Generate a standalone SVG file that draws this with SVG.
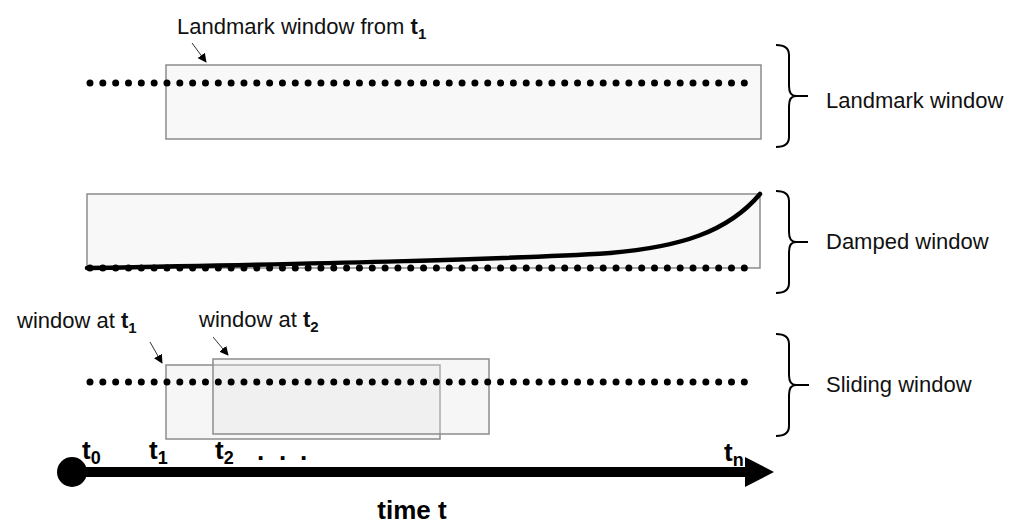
<svg xmlns="http://www.w3.org/2000/svg" width="1016" height="523" viewBox="0 0 1016 523">
  <defs>
    <style>
      .win { fill: #f8f8f8; stroke: #8c8c8c; stroke-width: 1.5; }
      .swin { fill: #e4e4e4; fill-opacity: 0.35; stroke: #8c8c8c; stroke-width: 1.5; }
      .dots { stroke: #000; stroke-width: 7; stroke-linecap: round; stroke-dasharray: 0 12.83; fill: none; }
      .brace { fill: none; stroke: #000; stroke-width: 2; }
      .lbl { font-family: "Liberation Sans", Arial, sans-serif; font-size: 22px; fill: #111; }
      .b { font-weight: bold; }
      .tl { font-family: "Liberation Sans", Arial, sans-serif; font-size: 26px; font-weight: bold; fill: #000; }
      .thin { stroke: #333; stroke-width: 1; fill: none; marker-end: url(#ah); }
    </style>
    <marker id="ah" viewBox="0 0 10 10" refX="9" refY="5" markerWidth="9" markerHeight="9" markerUnits="userSpaceOnUse" orient="auto">
      <path d="M0,0 L10,5 L0,10 z" fill="#000"/>
    </marker>
  </defs>
  <rect width="1016" height="523" fill="#fff"/>

  <g id="landmark">
    <rect class="win" x="166" y="65" width="595" height="74"/>
    <line class="dots" x1="90" y1="83" x2="757" y2="83"/>
    <text class="lbl" x="177" y="34">Landmark window from <tspan class="b">t</tspan><tspan class="b" font-size="15" dy="5">1</tspan></text>
    <path class="brace" d="M776,45 Q789,45 789,55 L789,86 Q789,96 796,96 Q789,96 789,106 L789,137 Q789,147 776,147 M796,96 L808,96"/>
    <text class="lbl" x="826" y="108">Landmark window</text>
  </g>

  <g id="damped">
    <rect class="win" x="87" y="194" width="673" height="74"/>
    <line class="dots" x1="90" y1="268" x2="757" y2="268"/>
    <path d="M87,268 C300,264 500,260 610,253 C680,247 728,232 760,194" fill="none" stroke="#000" stroke-width="4.5" stroke-linecap="round"/>
    <path class="brace" d="M776,191 Q789,191 789,201 L789,232 Q789,242 796,242 Q789,242 789,252 L789,283 Q789,293 776,293 M796,242 L808,242"/>
    <text class="lbl" x="826" y="249">Damped window</text>
  </g>

  <g id="sliding">
    <rect class="swin" x="166" y="365" width="274" height="74"/>
    <rect class="swin" x="213" y="359" width="276" height="75"/>
    <line class="dots" x1="90" y1="382" x2="757" y2="382"/>
    <text class="lbl" x="17" y="328">window at <tspan class="b">t</tspan><tspan class="b" font-size="15" dy="5">1</tspan></text>
    <text class="lbl" x="199" y="327">window at <tspan class="b">t</tspan><tspan class="b" font-size="15" dy="5">2</tspan></text>
    <path class="brace" d="M776,334 Q789,334 789,344 L789,375 Q789,385 796,385 Q789,385 789,395 L789,426 Q789,436 776,436 M796,385 L809,385"/>
    <text class="lbl" x="826" y="392">Sliding window</text>
  </g>

  <g id="timeline">
    <circle cx="72" cy="472" r="15" fill="#000"/>
    <line x1="72" y1="472" x2="750" y2="472" stroke="#000" stroke-width="10"/>
    <polygon points="745,457 774,472 745,487" fill="#000"/>
    <text class="tl" x="82" y="459">t<tspan font-size="18" dy="5">0</tspan></text>
    <text class="tl" x="149" y="459">t<tspan font-size="18" dy="5">1</tspan></text>
    <text class="tl" x="215" y="459">t<tspan font-size="18" dy="5">2</tspan></text>
    <text class="tl" x="257 279 300" y="460">...</text>
    <text class="tl" x="724" y="461">t<tspan font-size="18" dy="5">n</tspan></text>
    <text class="tl" x="412" y="519" text-anchor="middle">time t</text>
  </g>

  <g id="connectors">
    <line class="thin" x1="192" y1="43" x2="206" y2="62"/>
    <line class="thin" x1="150" y1="342" x2="162" y2="363"/>
    <line class="thin" x1="213" y1="337" x2="228" y2="355"/>
  </g>
</svg>
